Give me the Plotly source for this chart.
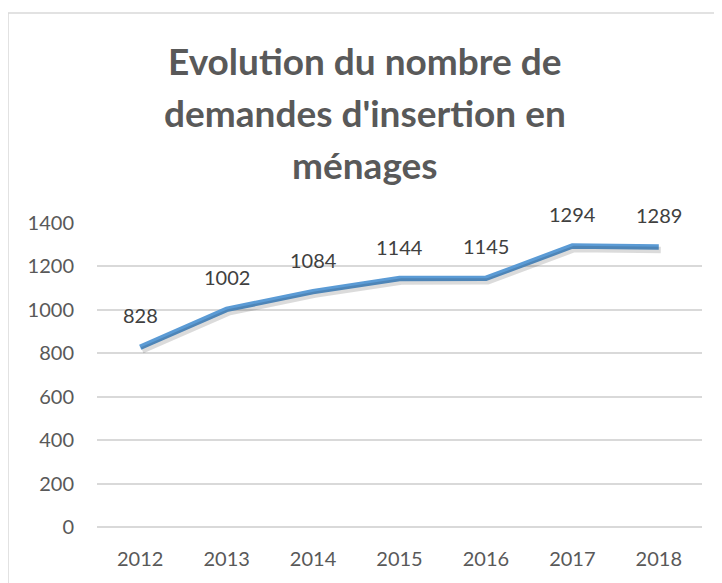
import plotly.graph_objects as go

years = ["2012", "2013", "2014", "2015", "2016", "2017", "2018"]
values = [828, 1002, 1084, 1144, 1145, 1294, 1289]
y_ticks = [0, 200, 400, 600, 800, 1000, 1200, 1400]
title_lines = ["Evolution du nombre de", "demandes d'insertion en", "ménages"]

# page body has an 8px margin, so figure coordinates are offset by 8px
OFF = 8
W, H = 722 - OFF, 583 - OFF
L, R, T, B = 97 - OFF, 20, 223 - OFF, 56
PW, PH = W - L - R, H - T - B

def px_to_paper_x(px):
    return (px - OFF - L) / PW

def px_to_paper_y(py):
    return (H - B - (py - OFF)) / PH

fig = go.Figure()

# soft shadow (same data drawn on offset overlay axes)
fig.add_trace(go.Scatter(
    x=years, y=values, mode="lines", xaxis="x2", yaxis="y2",
    line=dict(color="rgba(0,0,0,0.14)", width=6.5),
    hoverinfo="skip", showlegend=False,
))
fig.add_trace(go.Scatter(
    x=years, y=values, mode="lines",
    line=dict(color="#5B9BD5", width=5.5),
    showlegend=False,
))

annotations = []
for i, v in enumerate(values):
    annotations.append(dict(
        x=i, y=v, xref="x", yref="y", text=str(v), showarrow=False,
        yshift=32, font=dict(family="Lato", size=20, color="#404040"),
    ))

title_centers = [60, 112, 164]
for line, cy in zip(title_lines, title_centers):
    annotations.append(dict(
        x=px_to_paper_x(365), y=px_to_paper_y(cy), xref="paper", yref="paper",
        text="<b>" + line + "</b>", showarrow=False, xanchor="center", yanchor="middle",
        font=dict(family="Lato", size=37, color="#595959"),
    ))

sx = 2 / (PW / 7)
sy = 3 * 1400 / PH

fig.update_layout(
    width=W, height=H,
    margin=dict(l=L, r=R, t=T, b=B, autoexpand=False),
    paper_bgcolor="white", plot_bgcolor="white",
    xaxis=dict(
        type="category", range=[-0.5, 6.5], showgrid=False, zeroline=False,
        showline=False, ticks="", ticklabelstandoff=18,
        tickfont=dict(family="Lato", size=20, color="#595959"),
    ),
    yaxis=dict(
        range=[0, 1400], tickvals=y_ticks, showgrid=True, gridcolor="#D9D9D9",
        gridwidth=1.5, zeroline=True, zerolinecolor="#D9D9D9", zerolinewidth=1.5,
        showline=False, ticks="", ticklabelstandoff=22,
        tickfont=dict(family="Lato", size=20, color="#595959"),
    ),
    xaxis2=dict(type="category", range=[-0.5 - sx, 6.5 - sx], overlaying="x",
                visible=False),
    yaxis2=dict(range=[sy, 1400 + sy], overlaying="y", visible=False),
    annotations=annotations,
    shapes=[dict(
        type="rect", xref="paper", yref="paper",
        x0=px_to_paper_x(8), x1=px_to_paper_x(735),
        y0=px_to_paper_y(600), y1=px_to_paper_y(13),
        line=dict(color="#D9D9D9", width=1.5), fillcolor="rgba(0,0,0,0)",
        layer="below",
    )],
)

fig.write_html("out.html")
